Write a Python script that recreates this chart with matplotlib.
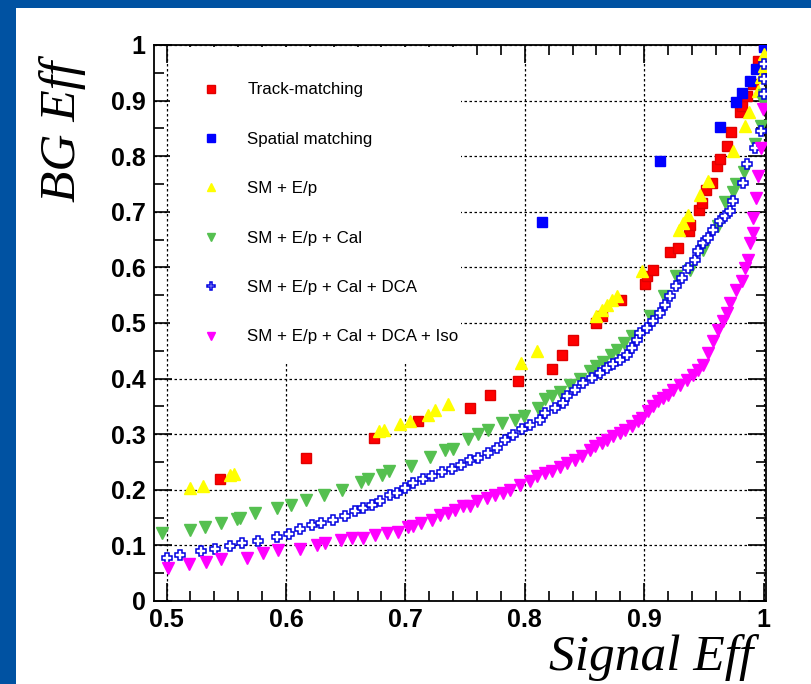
import numpy as np
import matplotlib
matplotlib.use("Agg")
import matplotlib.pyplot as plt
from matplotlib.patches import Rectangle
from matplotlib.ticker import MultipleLocator

# --- data (signal eff, background eff) ---
track_x = [0.5447, 0.617, 0.6736, 0.7107, 0.754, 0.7708, 0.794, 0.823, 0.831, 0.8405,
           0.86, 0.865, 0.8805, 0.9006, 0.902, 0.9075, 0.9215, 0.9285, 0.9377, 0.938,
           0.946, 0.948, 0.952, 0.957, 0.961, 0.9634, 0.969, 0.973, 0.980, 0.982,
           0.9857, 0.991, 0.9955, 1.0]
track_y = [0.22, 0.258, 0.293, 0.323, 0.348, 0.371, 0.395, 0.417, 0.443, 0.469,
           0.50, 0.512, 0.541, 0.571, 0.584, 0.596, 0.627, 0.635, 0.665, 0.677,
           0.704, 0.716, 0.74, 0.752, 0.782, 0.795, 0.818, 0.844, 0.879, 0.89,
           0.909, 0.93, 0.972, 1.0]

spatial_x = [0.814, 0.913, 0.9634, 0.977, 0.9816, 0.9886, 0.994, 1.0]
spatial_y = [0.682, 0.792, 0.853, 0.898, 0.913, 0.936, 0.957, 0.996]

ep_x = [0.520, 0.5307, 0.553, 0.5566, 0.678, 0.682, 0.6954, 0.704, 0.7186, 0.7247,
        0.7358, 0.7968, 0.81, 0.86, 0.8643, 0.8685, 0.8727, 0.877, 0.8978, 0.9295,
        0.9327, 0.937, 0.9466, 0.9536, 0.9745, 0.984, 0.988, 0.9955, 0.998, 1.0, 1.0]
ep_y = [0.203, 0.206, 0.226, 0.229, 0.305, 0.308, 0.318, 0.323, 0.335, 0.344,
        0.354, 0.428, 0.449, 0.512, 0.524, 0.533, 0.542, 0.548, 0.593, 0.668,
        0.680, 0.695, 0.73, 0.755, 0.81, 0.855, 0.879, 0.918, 0.942, 0.963, 0.984]

cal_x = [0.4966, 0.52, 0.532, 0.546, 0.5586, 0.5614, 0.574, 0.5926, 0.604, 0.6167,
         0.6317, 0.6466, 0.6625, 0.6688, 0.6806, 0.6864, 0.705, 0.7205, 0.733, 0.7395,
         0.7526, 0.761, 0.7694, 0.7806, 0.7917, 0.7995, 0.8113, 0.817, 0.8225, 0.8294,
         0.8378, 0.8461, 0.8545, 0.86, 0.8657, 0.8718, 0.877, 0.883, 0.8894, 0.9048,
         0.917, 0.927, 0.938, 0.9494, 0.962, 0.9676, 0.9745, 0.977, 0.9835, 0.993,
         0.998, 0.9997, 1.0]
cal_y = [0.122, 0.127, 0.133, 0.14, 0.147, 0.149, 0.158, 0.167, 0.172, 0.182,
         0.191, 0.2, 0.214, 0.22, 0.226, 0.233, 0.242, 0.259, 0.272, 0.274,
         0.292, 0.301, 0.308, 0.32, 0.326, 0.333, 0.348, 0.363, 0.368, 0.376,
         0.389, 0.399, 0.413, 0.422, 0.429, 0.443, 0.452, 0.464, 0.476, 0.512,
         0.548, 0.584, 0.596, 0.632, 0.674, 0.717, 0.735, 0.75, 0.771, 0.822,
         0.855, 0.897, 0.91]

dca_x = [0.5, 0.511, 0.529, 0.5405, 0.553, 0.5628, 0.5767, 0.5921, 0.6027, 0.6116,
         0.6214, 0.629, 0.6395, 0.6493, 0.6577, 0.6647, 0.6717, 0.6786, 0.687, 0.6931,
         0.6996, 0.7065, 0.715, 0.7219, 0.7303, 0.7387, 0.747, 0.754, 0.761, 0.7694,
         0.7764, 0.7833, 0.7903, 0.7973, 0.8043, 0.8127, 0.8168, 0.8252, 0.8322, 0.835,
         0.842, 0.849, 0.856, 0.863, 0.8685, 0.874, 0.8797, 0.8853, 0.8894, 0.8936,
         0.8964, 0.902, 0.9075,
         0.913, 0.9173, 0.9215, 0.927, 0.9313, 0.937, 0.9425, 0.9452, 0.9494, 0.9536,
         0.9578, 0.9634, 0.9676, 0.9717, 0.9745, 0.983, 0.986, 0.993, 0.998, 1.0,
         1.0, 1.0]
dca_y = [0.078, 0.083, 0.09, 0.094, 0.099, 0.105, 0.108, 0.116, 0.121, 0.13,
         0.136, 0.14, 0.146, 0.152, 0.161, 0.167, 0.173, 0.18, 0.191, 0.195,
         0.204, 0.212, 0.22, 0.225, 0.232, 0.237, 0.245, 0.254, 0.258, 0.266,
         0.275, 0.289, 0.299, 0.31, 0.317, 0.326, 0.338, 0.347, 0.356, 0.368,
         0.38, 0.392, 0.401, 0.41, 0.419, 0.427, 0.434, 0.443, 0.455, 0.47,
         0.482, 0.491, 0.503,
         0.518, 0.533, 0.548, 0.566, 0.581, 0.599, 0.614, 0.629, 0.644, 0.653,
         0.668, 0.683, 0.692, 0.701, 0.719, 0.752, 0.786, 0.815, 0.846, 0.912,
         0.939, 0.966]

iso_x = [0.5014, 0.519, 0.533, 0.546, 0.567, 0.5804, 0.5935, 0.6116, 0.6256, 0.6326,
         0.6457, 0.655, 0.6647, 0.6745, 0.6842, 0.694, 0.7023, 0.7065, 0.7135, 0.722,
         0.729, 0.736, 0.7414, 0.7484, 0.754, 0.7596, 0.768, 0.775, 0.782, 0.7875,
         0.796, 0.804, 0.81, 0.817, 0.8225, 0.8294, 0.835, 0.842, 0.8476, 0.8545,
         0.8587, 0.8643, 0.8685, 0.874, 0.8797, 0.8838, 0.8894, 0.895, 0.8978, 0.9034,
         0.9075, 0.9117, 0.916, 0.92, 0.9243, 0.93, 0.9355, 0.941, 0.945, 0.9494,
         0.9536, 0.9578, 0.962, 0.966, 0.969, 0.9717, 0.977, 0.9816, 0.9844, 0.987,
         0.9886, 0.991, 0.9915, 0.994, 0.9955, 0.998, 0.9997]
iso_y = [0.059, 0.067, 0.071, 0.075, 0.077, 0.087, 0.092, 0.094, 0.101, 0.105,
         0.11, 0.113, 0.114, 0.119, 0.123, 0.125, 0.133, 0.135, 0.14, 0.146,
         0.155, 0.158, 0.163, 0.17, 0.171, 0.179, 0.185, 0.191, 0.194, 0.2,
         0.208, 0.215, 0.224, 0.23, 0.234, 0.241, 0.248, 0.254, 0.26, 0.272,
         0.278, 0.284, 0.29, 0.296, 0.302, 0.308, 0.314, 0.323, 0.329, 0.341,
         0.35, 0.359, 0.365, 0.371, 0.38, 0.389, 0.398, 0.407, 0.416, 0.425,
         0.446, 0.467, 0.488, 0.503, 0.518, 0.536, 0.56, 0.575, 0.599, 0.614,
         0.644, 0.662, 0.689, 0.725, 0.764, 0.815, 0.885]

labels = ["Track-matching", "Spatial matching", "SM + E/p", "SM + E/p + Cal",
          "SM + E/p + Cal + DCA", "SM + E/p + Cal + DCA + Iso"]

# --- figure ---
fig = plt.figure(figsize=(8.12, 6.84), dpi=100)
fig.patch.set_facecolor("#0052a2")
fig.add_artist(Rectangle((16 / 812, 0), 1, (684 - 8) / 684, transform=fig.transFigure,
                         facecolor="white", edgecolor="none", zorder=-10))

ax = fig.add_axes([154 / 812, (684 - 601) / 684, 612 / 812, 556 / 684])
ax.set_zorder(1)
ax.set_xlim(0.4895, 1.002)
ax.set_ylim(0, 1)

ax.grid(True, which="major", color="black", linestyle=(0, (2, 2)), linewidth=0.9)
ax.set_axisbelow(True)

# white legend pad that hides the grid (ROOT TLegend fill)
ax.add_patch(Rectangle((16 / 612, (601 - 362) / 556), (461 - 170) / 612, (362 - 47) / 556,
                       transform=ax.transAxes, facecolor="white", edgecolor="none", zorder=1))

ax.plot(track_x, track_y, ls="none", marker="s", ms=7.2, color="#ff0000", mec="#e00000", label=labels[0], zorder=3)
ax.plot(spatial_x, spatial_y, ls="none", marker="s", ms=7.2, color="#0000ff", label=labels[1], zorder=3)
ax.plot(ep_x, ep_y, ls="none", marker="^", ms=8, color="#ffff00", label=labels[2], zorder=3)
ax.plot(cal_x, cal_y, ls="none", marker="v", ms=8, color="#55c050", label=labels[3], zorder=3)
ax.plot(dca_x, dca_y, ls="none", marker="P", ms=7.5, mfc="white", mec="#0000e0", mew=1.1, label=labels[4], zorder=3)
ax.plot(iso_x, iso_y, ls="none", marker="v", ms=8, color="#ff00ff", label=labels[5], zorder=3)

ax.xaxis.set_major_locator(MultipleLocator(0.1))
ax.xaxis.set_minor_locator(MultipleLocator(0.02))
ax.yaxis.set_major_locator(MultipleLocator(0.1))
ax.yaxis.set_minor_locator(MultipleLocator(0.05))
ax.tick_params(which="both", direction="in", top=True, right=True, width=1.2)
ax.tick_params(which="major", length=13)
ax.tick_params(which="minor", length=7)
ax.tick_params(axis="x", which="major", pad=5)
ax.tick_params(axis="y", which="major", pad=6)

def fmt(v):
    s = "%.1f" % v
    return s[0] if s.endswith(".0") else s

ax.set_xticks(np.arange(0.5, 1.01, 0.1))
ax.set_xticklabels([fmt(v) for v in np.arange(0.5, 1.01, 0.1)])
ax.set_yticks(np.arange(0, 1.01, 0.1))
ax.set_yticklabels([fmt(v) for v in np.arange(0, 1.01, 0.1)])
for lab in ax.get_xticklabels() + ax.get_yticklabels():
    lab.set_fontfamily("Liberation Sans")
    lab.set_fontweight("bold")
    lab.set_fontsize(18)

for sp in ax.spines.values():
    sp.set_linewidth(1.3)

leg = ax.legend(loc="upper left", bbox_to_anchor=(0.047, 0.96), frameon=False,
                prop={"family": "Liberation Sans", "size": 12.2}, markerscale=0.75,
                labelspacing=2.03, handletextpad=1.4, handlelength=1.5)
leg.set_zorder(5)

fig.text(63 / 812, 1 - 61 / 684, "BG Eff", rotation=90, ha="center", va="top",
         family="Liberation Serif", style="italic", fontsize=37)
fig.text(753 / 812, 1 - 670 / 684, "Signal Eff", ha="right", va="baseline",
         family="Liberation Serif", style="italic", fontsize=37)

fig.savefig("out.png", dpi=100)
